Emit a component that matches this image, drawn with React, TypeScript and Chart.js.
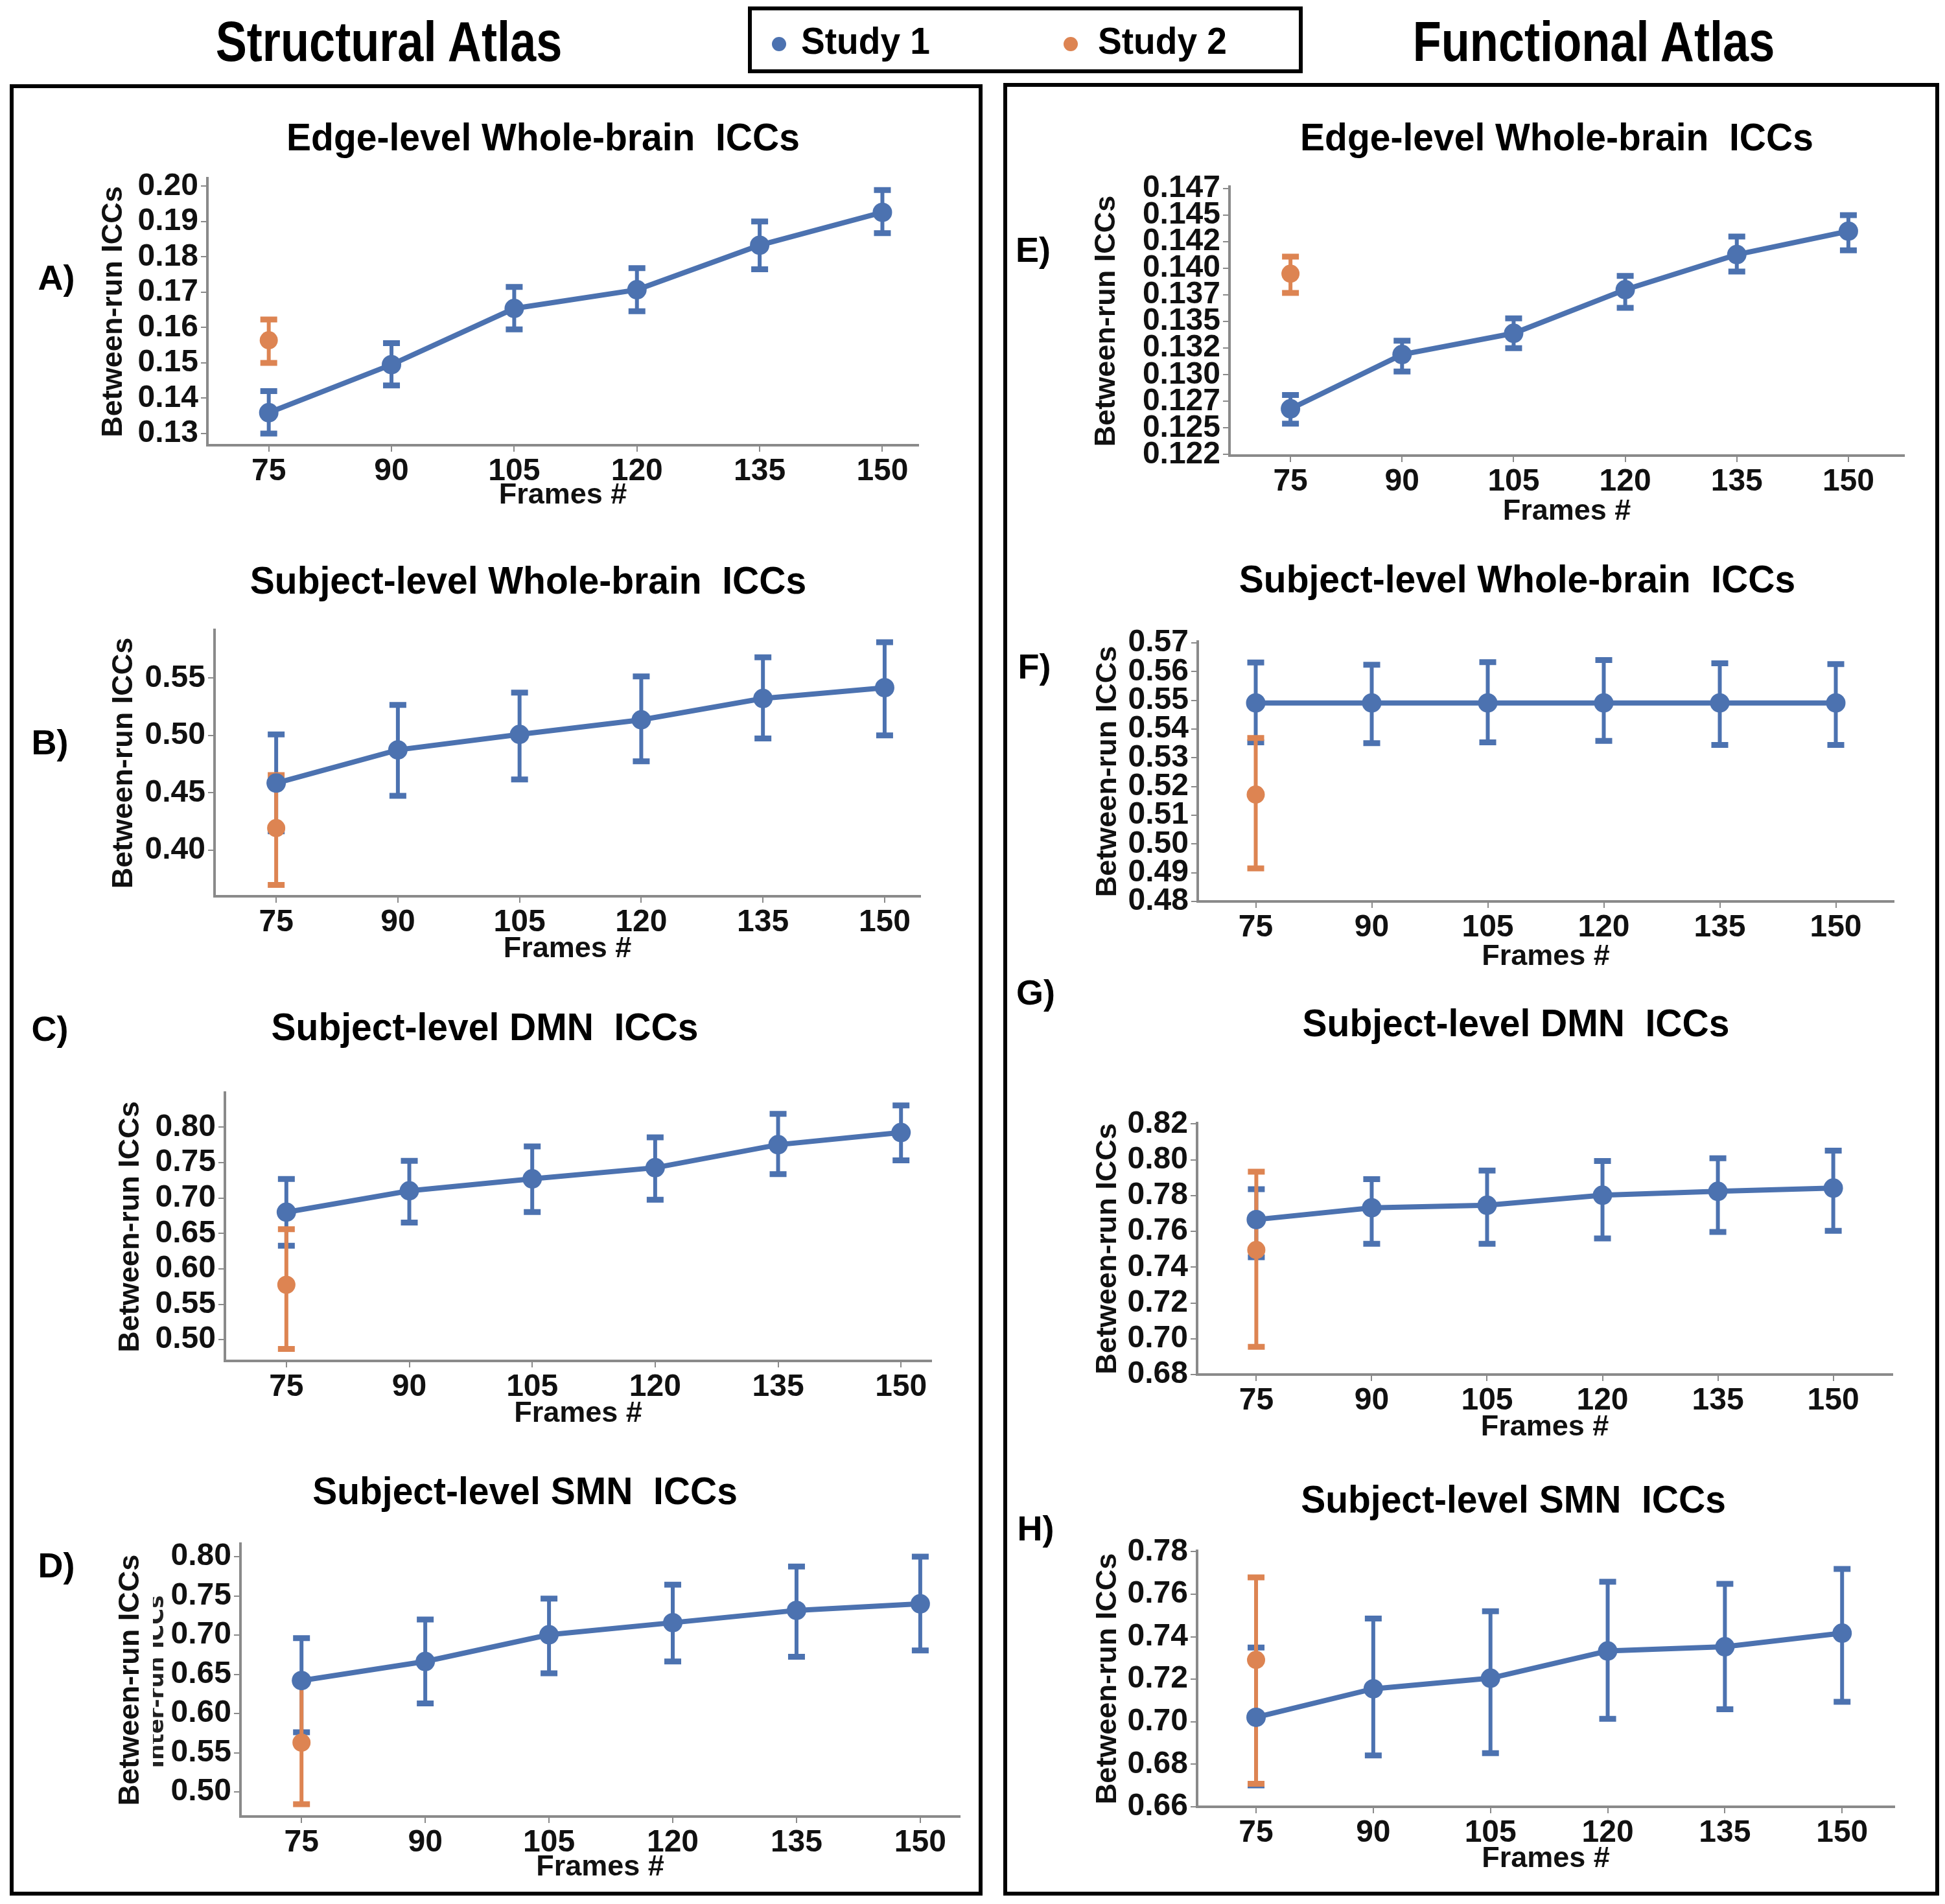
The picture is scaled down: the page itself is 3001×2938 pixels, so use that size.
import React, { useEffect, useRef } from "react";
import { Chart, registerables } from "chart.js";

Chart.register(...registerables);

// ---------------- data ----------------
const frames = [75, 90, 105, 120, 135, 150];
const study2Frames = [75];

// A) structural, edge-level whole-brain
const aS1 = [0.1359, 0.1495, 0.1654, 0.1707, 0.1833, 0.1926];
const aS1Lo = [0.13, 0.1436, 0.1595, 0.1646, 0.1765, 0.1867];
const aS1Hi = [0.142, 0.1556, 0.1715, 0.1768, 0.19, 0.1989];
const aS2 = [0.1564];
const aS2Lo = [0.15];
const aS2Hi = [0.1623];
const aTicks = [0.13, 0.14, 0.15, 0.16, 0.17, 0.18, 0.19, 0.2];
const aTickLabels = ["0.13", "0.14", "0.15", "0.16", "0.17", "0.18", "0.19", "0.20"];

// B) structural, subject-level whole-brain
const bS1 = [0.4585, 0.4874, 0.5009, 0.5136, 0.5322, 0.5416];
const bS1Lo = [0.4165, 0.4473, 0.4616, 0.4775, 0.4973, 0.5001];
const bS1Hi = [0.5009, 0.5266, 0.5373, 0.5515, 0.5681, 0.5812];
const bS2 = [0.4192];
const bS2Lo = [0.3697];
const bS2Hi = [0.4654];
const bTicks = [0.4, 0.45, 0.5, 0.55];
const bTickLabels = ["0.40", "0.45", "0.50", "0.55"];

// C) structural, subject-level DMN
const cS1 = [0.68, 0.7102, 0.7271, 0.7428, 0.7753, 0.7925];
const cS1Lo = [0.6327, 0.6653, 0.6803, 0.6975, 0.7337, 0.7533];
const cS1Hi = [0.7268, 0.7524, 0.7729, 0.7856, 0.8188, 0.8308];
const cS2 = [0.5775];
const cS2Lo = [0.487];
const cS2Hi = [0.6559];
const cTicks = [0.5, 0.55, 0.6, 0.65, 0.7, 0.75, 0.8];
const cTickLabels = ["0.50", "0.55", "0.60", "0.65", "0.70", "0.75", "0.80"];

// D) structural, subject-level SMN
const dS1 = [0.642, 0.6663, 0.7004, 0.7158, 0.7315, 0.7398];
const dS1Lo = [0.576, 0.6129, 0.6513, 0.6663, 0.6724, 0.6804];
const dS1Hi = [0.696, 0.7198, 0.7465, 0.7642, 0.7873, 0.8];
const dS2 = [0.5628];
const dS2Lo = [0.4843];
const dS2Hi = [0.644];
const dTicks = [0.5, 0.55, 0.6, 0.65, 0.7, 0.75, 0.8];
const dTickLabels = ["0.50", "0.55", "0.60", "0.65", "0.70", "0.75", "0.80"];

// E) functional, edge-level whole-brain
const eS1 = [0.1268, 0.1319, 0.1339, 0.138, 0.1413, 0.1435];
const eS1Lo = [0.1254, 0.1303, 0.1325, 0.1363, 0.1397, 0.1417];
const eS1Hi = [0.1281, 0.1332, 0.1353, 0.1393, 0.143, 0.145];
const eS2 = [0.1395];
const eS2Lo = [0.1377];
const eS2Hi = [0.1411];
const eTicks = [0.1225, 0.125, 0.1275, 0.13, 0.1325, 0.135, 0.1375, 0.14, 0.1425, 0.145, 0.1475];
const eTickLabels = ["0.122", "0.125", "0.127", "0.130", "0.132", "0.135", "0.137", "0.140", "0.142", "0.145", "0.147"];

// F) functional, subject-level whole-brain
const fS1 = [0.5491, 0.5491, 0.5491, 0.5491, 0.5491, 0.5491];
const fS1Lo = [0.5354, 0.5351, 0.5354, 0.5359, 0.5345, 0.5345];
const fS1Hi = [0.5632, 0.5624, 0.5633, 0.564, 0.5629, 0.5626];
const fS2 = [0.5172];
const fS2Lo = [0.4915];
const fS2Hi = [0.5369];
const fTicks = [0.48, 0.49, 0.5, 0.51, 0.52, 0.53, 0.54, 0.55, 0.56, 0.57];
const fTickLabels = ["0.48", "0.49", "0.50", "0.51", "0.52", "0.53", "0.54", "0.55", "0.56", "0.57"];

// G) functional, subject-level DMN
const gS1 = [0.7666, 0.7732, 0.7746, 0.7802, 0.7824, 0.7842];
const gS1Lo = [0.7456, 0.7531, 0.7531, 0.7561, 0.7597, 0.7603];
const gS1Hi = [0.7836, 0.7892, 0.794, 0.7993, 0.8009, 0.8051];
const gS2 = [0.7496];
const gS2Lo = [0.6955];
const gS2Hi = [0.7934];
const gTicks = [0.68, 0.7, 0.72, 0.74, 0.76, 0.78, 0.8, 0.82];
const gTickLabels = ["0.68", "0.70", "0.72", "0.74", "0.76", "0.78", "0.80", "0.82"];

// H) functional, subject-level SMN
const hS1 = [0.7021, 0.7155, 0.7205, 0.7333, 0.7353, 0.7417];
const hS1Lo = [0.6701, 0.6842, 0.6852, 0.7014, 0.7059, 0.7094];
const hS1Hi = [0.7349, 0.7486, 0.752, 0.7659, 0.7649, 0.7719];
const hS2 = [0.7291];
const hS2Lo = [0.6708];
const hS2Hi = [0.7679];
const hTicks = [0.66, 0.68, 0.7, 0.72, 0.74, 0.76, 0.78];
const hTickLabels = ["0.66", "0.68", "0.70", "0.72", "0.74", "0.76", "0.78"];

const seriesNames = ["Study 1", "Study 2"];
const headerLeft = "Structural Atlas";
const headerRight = "Functional Atlas";
const xTitle = "Frames #";
const yTitle = "Between-run ICCs";

// ---------------- styles ----------------
const BLUE = "#4C72B0";
const ORANGE = "#DD8452";
const SANS = '"Liberation Sans", Arial, sans-serif';
const DJV = '"DejaVu Sans", sans-serif';
const TICK_FONT = 48;
const XT_FONT = 45;
const YT_FONT = 45;

type PanelCfg = {
  s1: number[]; s1Lo: number[]; s1Hi: number[];
  s2: number[]; s2Lo: number[]; s2Hi: number[];
  ticks: number[]; labels: string[];
  ymin: number; ymax: number; xmin: number; xmax: number;
  L: number; T: number; R: number; B: number; ylx: number; xly: number;
  title: string; tx: number; ty: number; letter: string; lx: number; ly: number;
};

const panels: PanelCfg[] = [
  { s1: aS1, s1Lo: aS1Lo, s1Hi: aS1Hi, s2: aS2, s2Lo: aS2Lo, s2Hi: aS2Hi, ticks: aTicks, labels: aTickLabels,
    ymin: 0.1267, ymax: 0.2023, xmin: 67.5, xmax: 154.4, L: 320, T: 272, R: 1417, B: 687, ylx: 176, xly: 765,
    title: "Edge-level Whole-brain  ICCs", tx: 838, ty: 212, letter: "A)", lx: 87, ly: 428 },
  { s1: bS1, s1Lo: bS1Lo, s1Hi: bS1Hi, s2: bS2, s2Lo: bS2Lo, s2Hi: bS2Hi, ticks: bTicks, labels: bTickLabels,
    ymin: 0.3598, ymax: 0.5921, xmin: 67.4, xmax: 154.4, L: 331, T: 969, R: 1420, B: 1383, ylx: 192, xly: 1465,
    title: "Subject-level Whole-brain  ICCs", tx: 815, ty: 896, letter: "B)", lx: 77, ly: 1145 },
  { s1: cS1, s1Lo: cS1Lo, s1Hi: cS1Hi, s2: cS2, s2Lo: cS2Lo, s2Hi: cS2Hi, ticks: cTicks, labels: cTickLabels,
    ymin: 0.47, ymax: 0.849, xmin: 67.5, xmax: 153.7, L: 347, T: 1683, R: 1437, B: 2100, ylx: 202, xly: 2182,
    title: "Subject-level DMN  ICCs", tx: 748, ty: 1585, letter: "C)", lx: 77, ly: 1587 },
  { s1: dS1, s1Lo: dS1Lo, s1Hi: dS1Hi, s2: dS2, s2Lo: dS2Lo, s2Hi: dS2Hi, ticks: dTicks, labels: dTickLabels,
    ymin: 0.4686, ymax: 0.8167, xmin: 67.6, xmax: 154.8, L: 371, T: 2379, R: 1481, B: 2803, ylx: 202, xly: 2882,
    title: "Subject-level SMN  ICCs", tx: 810, ty: 2301, letter: "D)", lx: 87, ly: 2415 },
  { s1: eS1, s1Lo: eS1Lo, s1Hi: eS1Hi, s2: eS2, s2Lo: eS2Lo, s2Hi: eS2Hi, ticks: eTicks, labels: eTickLabels,
    ymin: 0.1224, ymax: 0.1477, xmin: 66.8, xmax: 157.5, L: 1897, T: 285, R: 2938, B: 703, ylx: 1708, xly: 790,
    title: "Edge-level Whole-brain  ICCs", tx: 2402, ty: 212, letter: "E)", lx: 1594, ly: 385 },
  { s1: fS1, s1Lo: fS1Lo, s1Hi: fS1Hi, s2: fS2, s2Lo: fS2Lo, s2Hi: fS2Hi, ticks: fTicks, labels: fTickLabels,
    ymin: 0.48, ymax: 0.5705, xmin: 67.5, xmax: 157.5, L: 1848, T: 987, R: 2922, B: 1391, ylx: 1710, xly: 1477,
    title: "Subject-level Whole-brain  ICCs", tx: 2341, ty: 894, letter: "F)", lx: 1596, ly: 1028 },
  { s1: gS1, s1Lo: gS1Lo, s1Hi: gS1Hi, s2: gS2, s2Lo: gS2Lo, s2Hi: gS2Hi, ticks: gTicks, labels: gTickLabels,
    ymin: 0.68, ymax: 0.8206, xmin: 67.3, xmax: 157.7, L: 1847, T: 1730, R: 2920, B: 2121, ylx: 1710, xly: 2203,
    title: "Subject-level DMN  ICCs", tx: 2339, ty: 1579, letter: "G)", lx: 1598, ly: 1531 },
  { s1: hS1, s1Lo: hS1Lo, s1Hi: hS1Hi, s2: hS2, s2Lo: hS2Lo, s2Hi: hS2Hi, ticks: hTicks, labels: hTickLabels,
    ymin: 0.66, ymax: 0.7805, xmin: 67.45, xmax: 156.7, L: 1847, T: 2390, R: 2923, B: 2788, ylx: 1710, xly: 2869,
    title: "Subject-level SMN  ICCs", tx: 2335, ty: 2314, letter: "H)", lx: 1598, ly: 2358 },
];

// error bars drawn through the chart scales
const errorBarPlugin = {
  id: "errbars",
  beforeDatasetsDraw(chart: any) {
    const { ctx } = chart;
    const xs = chart.scales.x;
    const ys = chart.scales.y;
    chart.data.datasets.forEach((ds: any) => {
      ctx.save();
      ctx.strokeStyle = ds.borderColor;
      ctx.lineCap = "butt";
      ds.data.forEach((p: any, i: number) => {
        const px = xs.getPixelForValue(p.x);
        const yl = ys.getPixelForValue(ds.errLo[i]);
        const yh = ys.getPixelForValue(ds.errHi[i]);
        ctx.lineWidth = 6;
        ctx.beginPath();
        ctx.moveTo(px, yl);
        ctx.lineTo(px, yh);
        ctx.stroke();
        ctx.lineWidth = 9;
        ctx.beginPath();
        ctx.moveTo(px - 13, yl);
        ctx.lineTo(px + 13, yl);
        ctx.moveTo(px - 13, yh);
        ctx.lineTo(px + 13, yh);
        ctx.stroke();
      });
      ctx.restore();
    });
  },
};

const PAD_TOP = 30;
const PAD_RIGHT = 30;

function Panel({ cfg }: { cfg: PanelCfg }) {
  const ref = useRef<HTMLCanvasElement | null>(null);
  const ytLH = YT_FONT * 1.2;
  const xtLH = XT_FONT * 1.2;
  const left = cfg.ylx - ytLH / 2;
  const top = cfg.T - PAD_TOP;
  const yW = cfg.L - left;
  const xH = cfg.xly - cfg.B + xtLH / 2;
  const width = Math.round(cfg.R + PAD_RIGHT - left);
  const height = Math.round(cfg.B + xH - top);

  useEffect(() => {
    if (!ref.current) return;
    const chart = new Chart(ref.current, {
      type: "line",
      data: {
        datasets: [
          {
            label: seriesNames[0],
            data: frames.map((f, i) => ({ x: f, y: cfg.s1[i] })),
            borderColor: BLUE,
            backgroundColor: BLUE,
            borderWidth: 8,
            pointRadius: 15,
            pointHoverRadius: 15,
            pointBorderWidth: 0,
            showLine: true,
            tension: 0,
            clip: false,
            errLo: cfg.s1Lo,
            errHi: cfg.s1Hi,
          } as any,
          {
            label: seriesNames[1],
            data: study2Frames.map((f, i) => ({ x: f, y: cfg.s2[i] })),
            borderColor: ORANGE,
            backgroundColor: ORANGE,
            borderWidth: 0,
            pointRadius: 14,
            pointHoverRadius: 14,
            pointBorderWidth: 0,
            showLine: false,
            clip: false,
            errLo: cfg.s2Lo,
            errHi: cfg.s2Hi,
          } as any,
        ],
      },
      options: {
        animation: false,
        responsive: false,
        maintainAspectRatio: false,
        events: [],
        layout: { padding: { top: PAD_TOP, right: PAD_RIGHT, left: 0, bottom: 0 } },
        plugins: {
          legend: { display: false },
          tooltip: { enabled: false },
          title: { display: false },
        },
        scales: {
          x: {
            type: "linear",
            min: cfg.xmin,
            max: cfg.xmax,
            afterBuildTicks: (s: any) => {
              s.ticks = frames.map((v) => ({ value: v }));
            },
            afterFit: (s: any) => {
              s.height = xH;
            },
            ticks: {
              autoSkip: false,
              maxRotation: 0,
              padding: 2,
              color: "#111",
              font: { family: SANS, size: TICK_FONT, weight: "bold" },
              callback: (v: any) => String(v),
            },
            grid: { drawOnChartArea: false, drawTicks: true, tickLength: 10, color: "#8a8a8a", lineWidth: 2 },
            border: { color: "#8a8a8a", width: 4 },
            title: {
              display: true,
              text: xTitle,
              color: "#111",
              padding: { top: 0, bottom: 0 },
              font: { family: SANS, size: XT_FONT, weight: "bold" },
            },
          },
          y: {
            type: "linear",
            min: cfg.ymin,
            max: cfg.ymax,
            afterBuildTicks: (s: any) => {
              s.ticks = cfg.ticks.map((v) => ({ value: v }));
            },
            afterFit: (s: any) => {
              s.width = yW;
            },
            ticks: {
              autoSkip: false,
              padding: 4,
              color: "#111",
              font: { family: SANS, size: TICK_FONT, weight: "bold" },
              callback: (_v: any, i: number) => cfg.labels[i],
            },
            grid: { drawOnChartArea: false, drawTicks: true, tickLength: 10, color: "#8a8a8a", lineWidth: 2 },
            border: { color: "#8a8a8a", width: 4 },
            title: {
              display: true,
              text: yTitle,
              color: "#111",
              padding: { top: 0, bottom: 0 },
              font: { family: SANS, size: YT_FONT, weight: "bold" },
            },
          },
        },
      } as any,
      plugins: [errorBarPlugin as any],
    });
    return () => chart.destroy();
  }, []);

  return (
    <canvas
      ref={ref}
      width={width}
      height={height}
      style={{ position: "absolute", left: Math.round(left), top: Math.round(top), width, height }}
    />
  );
}

function CText({ x, y, size, children, family = SANS, sx = 1 }: any) {
  return (
    <div
      style={{
        position: "absolute",
        left: x,
        top: y,
        transform: `translate(-50%, -50%) scaleX(${sx})`,
        fontFamily: family,
        fontWeight: "bold",
        fontSize: size,
        lineHeight: 1,
        whiteSpace: "pre",
        color: "#000",
      }}
    >
      {children}
    </div>
  );
}

export default function App() {
  return (
    <div
      style={{
        position: "absolute",
        left: 0,
        top: 0,
        width: 3001,
        height: 2938,
        background: "#fff",
        overflow: "hidden",
      }}
    >
      {/* headers */}
      <CText x={600} y={64} size={88} sx={0.82}>{headerLeft}</CText>
      <CText x={2459} y={64} size={88} sx={0.82}>{headerRight}</CText>

      {/* legend */}
      <div style={{ position: "absolute", left: 1154, top: 10, width: 856, height: 103, border: "6px solid #000", boxSizing: "border-box" }} />
      <div style={{ position: "absolute", left: 1191, top: 57, width: 22, height: 22, borderRadius: 11, background: BLUE }} />
      <div style={{ position: "absolute", left: 1236, top: 34, fontFamily: SANS, fontWeight: "bold", fontSize: 58, lineHeight: 1, transform: "scaleX(0.95)", transformOrigin: "left center" }}>{seriesNames[0]}</div>
      <div style={{ position: "absolute", left: 1641, top: 57, width: 22, height: 22, borderRadius: 11, background: ORANGE }} />
      <div style={{ position: "absolute", left: 1694, top: 34, fontFamily: SANS, fontWeight: "bold", fontSize: 58, lineHeight: 1, transform: "scaleX(0.95)", transformOrigin: "left center" }}>{seriesNames[1]}</div>

      {/* panel boxes */}
      <div style={{ position: "absolute", left: 15, top: 130, width: 1501, height: 2795, border: "6px solid #000", boxSizing: "border-box" }} />
      <div style={{ position: "absolute", left: 1548, top: 128, width: 1444, height: 2797, border: "6px solid #000", boxSizing: "border-box" }} />

      {panels.map((p, i) => (
        <React.Fragment key={i}>
          <CText x={p.tx} y={p.ty} size={60} sx={0.95}>{p.title}</CText>
          <CText x={p.lx} y={p.ly} size={54}>{p.letter}</CText>
          <Panel cfg={p} />
        </React.Fragment>
      ))}

      {/* stray overlapping label in panel D, partly hidden */}
      <div style={{ position: "absolute", left: 236, top: 2430, width: 16, height: 330, overflow: "hidden" }}>
        <div
          style={{
            position: "absolute",
            left: 4,
            top: 165,
            transform: "translate(-50%, -50%) rotate(-90deg)",
            fontFamily: DJV,
            fontWeight: "bold",
            fontSize: 34,
            lineHeight: 1,
            whiteSpace: "pre",
            color: "#222",
          }}
        >
          Inter-run ICCs
        </div>
      </div>
    </div>
  );
}
